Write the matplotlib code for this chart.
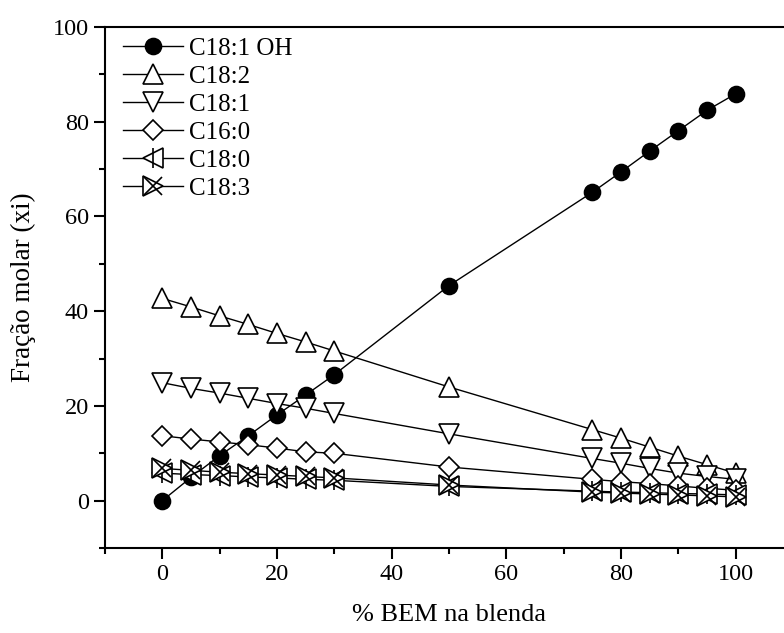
import matplotlib
matplotlib.use("Agg")
from matplotlib import pyplot as plt
from matplotlib.ticker import MultipleLocator
from matplotlib.legend_handler import HandlerTuple

plt.rcParams['font.family'] = ['Liberation Serif', 'DejaVu Serif']

# % BEM in the blend
x = [0, 5, 10, 15, 20, 25, 30, 50, 75, 80, 85, 90, 95, 100]

c181oh = [0.0, 4.9, 9.5, 13.7, 18.1, 22.3, 26.6, 45.4, 65.1, 69.4, 73.8, 78.1, 82.4, 85.9]
c182 = [42.7, 40.9, 39.0, 37.2, 35.3, 33.5, 31.6, 24.0, 15.0, 13.2, 11.3, 9.4, 7.6, 5.8]
c181 = [24.9, 23.7, 22.7, 21.6, 20.5, 19.5, 18.4, 14.1, 8.9, 7.9, 6.8, 5.8, 5.1, 4.5]
c160 = [13.7, 13.0, 12.4, 11.8, 11.1, 10.3, 10.0, 7.1, 4.5, 4.0, 3.6, 3.1, 2.6, 2.2]
c180 = [5.8, 5.5, 5.3, 5.0, 4.8, 4.5, 4.3, 3.0, 2.0, 1.8, 1.7, 1.5, 1.4, 1.2]
c183 = [6.8, 6.4, 6.0, 5.7, 5.4, 5.1, 4.8, 3.3, 1.8, 1.6, 1.4, 1.2, 1.0, 0.8]

dpi = 100
fig = plt.figure(figsize=(7.84, 6.33), dpi=dpi)
# right edge of the axes lies outside the picture, as in the original
ax = fig.add_axes([105 / 784, 85 / 633, 688 / 784, 521 / 633])

lw = 1.0
common = dict(color='black', lw=lw, mec='black', mew=1.2, mfc='white')

h1, = ax.plot(x, c181oh, marker='o', ms=11.5, **{**common, 'mfc': 'black'})
h2, = ax.plot(x, c182, marker='^', ms=14, **common)
h3, = ax.plot(x, c181, marker='v', ms=14, **common)
h4, = ax.plot(x, c160, marker='D', ms=10.5, **common)
h5a, = ax.plot(x, c180, marker='<', ms=14, **common)
h5b, = ax.plot(x, c180, marker='|', ms=14, ls='none', color='black', mew=1.2)
h6a, = ax.plot(x, c183, marker='>', ms=14, **common)
h6b, = ax.plot(x, c183, marker='x', ms=13, ls='none', color='black', mew=1.2)

ax.set_xlim(-10, 110)
ax.set_ylim(-10, 100)
ax.xaxis.set_major_locator(MultipleLocator(20))
ax.xaxis.set_minor_locator(MultipleLocator(10))
ax.yaxis.set_major_locator(MultipleLocator(20))
ax.yaxis.set_minor_locator(MultipleLocator(10))
ax.tick_params(which='both', direction='out', top=False, right=False,
               width=1.5, labelsize=17.5)
ax.tick_params(which='major', length=8)
ax.tick_params(which='minor', length=4.5)
for s in ax.spines.values():
    s.set_linewidth(1.5)

ax.set_xlabel('% BEM na blenda', fontsize=19, labelpad=14)
ax.set_ylabel('Fração molar (xi)', fontsize=19.5, labelpad=12)

leg = ax.legend([h1, h2, h3, h4, (h5a, h5b), (h6a, h6b)],
                ['C18:1 OH', 'C18:2', 'C18:1', 'C16:0', 'C18:0', 'C18:3'],
                handler_map={tuple: HandlerTuple(ndivide=1, pad=0)},
                loc='upper left', bbox_to_anchor=(0.0, 1.013), frameon=False,
                fontsize=18, handlelength=2.4, handletextpad=0.25,
                labelspacing=0.22, borderaxespad=0.3)

fig.savefig('out.png', dpi=dpi)
plt.close(fig)
